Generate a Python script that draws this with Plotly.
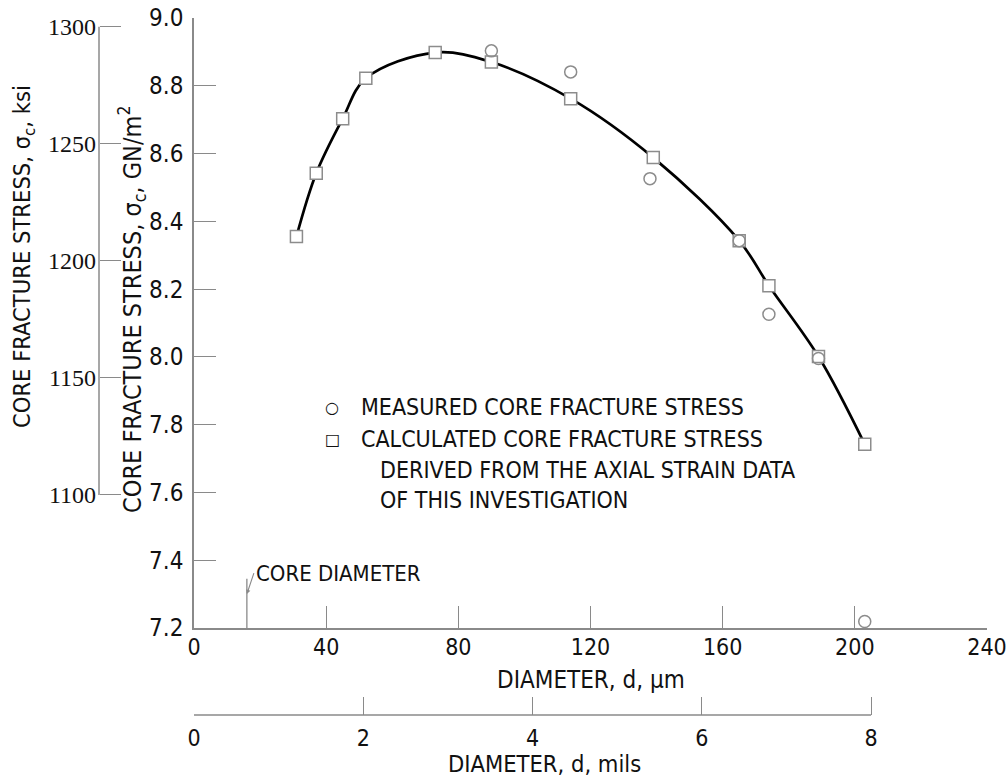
import plotly.graph_objects as go

# ---------------- data ----------------
calc_diameter_um = [31, 37, 45, 52, 73, 90, 114, 139, 165, 174, 189, 203]
calc_stress_gpa = [8.355, 8.542, 8.703, 8.822, 8.898, 8.870, 8.762, 8.588,
                   8.343, 8.210, 8.001, 7.742]
meas_diameter_um = [90, 114, 138, 165, 174, 189, 203]
meas_stress_gpa = [8.903, 8.841, 8.526, 8.343, 8.126, 7.995, 7.219]
core_diameter_um = [16]

x_ticks_um = [0, 40, 80, 120, 160, 200, 240]
y_ticks_gpa = [7.2, 7.4, 7.6, 7.8, 8.0, 8.2, 8.4, 8.6, 8.8, 9.0]
y_tick_text = ["7.2", "7.4", "7.6", "7.8", "8.0", "8.2", "8.4", "8.6", "8.8", "9.0"]
ksi_ticks = [1100, 1150, 1200, 1250, 1300]
mils_ticks = [0, 2, 4, 6, 8]

legend_labels = ["MEASURED CORE FRACTURE STRESS",
                 "CALCULATED CORE FRACTURE STRESS",
                 "DERIVED FROM THE AXIAL STRAIN DATA",
                 "OF THIS INVESTIGATION"]

# ---------------- geometry helpers ----------------
W, H = 1008, 782
ML, MR, MT, MB = 10, 21, 18, 20
PW, PH = W - ML - MR, H - MT - MB


def px(xpix):
    """page x pixel -> paper fraction"""
    return (xpix - ML) / PW


def py(ypix):
    """page y pixel -> paper fraction"""
    return (H - MB - ypix) / PH


FONT = "DejaVu Sans Condensed, Liberation Sans Narrow, sans-serif"
SERIF = "Liberation Serif, DejaVu Serif, serif"
AX = "#8a8a8a"
TXT = "#111111"

fig = go.Figure()

# fitted curve through calculated values
fig.add_trace(go.Scatter(
    x=calc_diameter_um, y=calc_stress_gpa, mode="lines",
    line=dict(color="#000000", width=2.7, shape="spline", smoothing=1.0),
    showlegend=False, hoverinfo="skip"))

# calculated (squares)
fig.add_trace(go.Scatter(
    x=calc_diameter_um, y=calc_stress_gpa, mode="markers",
    marker=dict(symbol="square", size=12, color="white",
                line=dict(color="#8c8c8c", width=1.5)),
    name=legend_labels[1], showlegend=False, cliponaxis=False))

# measured (circles)
fig.add_trace(go.Scatter(
    x=meas_diameter_um, y=meas_stress_gpa, mode="markers",
    marker=dict(symbol="circle-open", size=12, color="#8c8c8c",
                line=dict(color="#8c8c8c", width=1.5)),
    name=legend_labels[0], showlegend=False, cliponaxis=False))

shapes = []
# ksi axis line (1100 .. 1300)
shapes.append(dict(type="line", xref="paper", yref="y2",
                   x0=px(99), x1=px(99), y0=ksi_ticks[0], y1=ksi_ticks[-1],
                   line=dict(color=AX, width=1.5)))
# mils axis line (0 .. 8)
shapes.append(dict(type="line", xref="x2", yref="paper",
                   x0=mils_ticks[0], x1=mils_ticks[-1], y0=py(715), y1=py(715),
                   line=dict(color=AX, width=1.5)))
# core diameter marker line
shapes.append(dict(type="line", xref="x", yref="y",
                   x0=core_diameter_um[0], x1=core_diameter_um[0],
                   y0=7.2, y1=7.345, line=dict(color=AX, width=1.3)))

annotations = []


def note(text, xp, yp, size=24, anchor="center", angle=0, family=FONT):
    annotations.append(dict(text=text, x=px(xp), y=py(yp), xref="paper", yref="paper",
                            xanchor=anchor, yanchor="middle", showarrow=False,
                            textangle=angle, font=dict(family=family, size=size, color=TXT)))


note("CORE FRACTURE STRESS, σ<sub>c</sub>, ksi", 23, 257, size=23.5, angle=-90)
note("CORE FRACTURE STRESS, σ<sub>c</sub>, GN/m<sup>2</sup>", 132, 310, size=25, angle=-90)
note("DIAMETER, d, μm", 591, 680, size=24)
note("DIAMETER, d, mils", 544, 764, size=23.5)

# legend (text)
note("○", 332, 407, size=16, family="DejaVu Sans")
note("□", 332, 439, size=16, family="DejaVu Sans")
note(legend_labels[0], 359, 407, size=23, anchor="left")
note(legend_labels[1], 359, 439, size=23, anchor="left")
note(legend_labels[2], 378, 470, size=23, anchor="left")
note(legend_labels[3], 378, 500, size=23, anchor="left")

# core diameter label with small arrow
annotations.append(dict(text="CORE DIAMETER", x=core_diameter_um[0], y=7.30,
                        xref="x", yref="y", showarrow=True, ax=7, ay=-21,
                        axref="pixel", ayref="pixel", xanchor="left", yanchor="middle",
                        arrowhead=2, arrowsize=0.8, arrowwidth=1.1, arrowcolor=AX,
                        font=dict(family=FONT, size=22, color=TXT)))

common = dict(showgrid=False, zeroline=False, automargin=False,
              ticks="inside", tickcolor=AX, tickwidth=1.3, ticklabeloverflow="allow")

fig.update_layout(
    width=W, height=H, autosize=False,
    margin=dict(l=ML, r=MR, t=MT, b=MB, pad=0, autoexpand=False),
    paper_bgcolor="white", plot_bgcolor="white",
    showlegend=False,
    xaxis=dict(domain=[px(194), 1], range=[0, 240], tickvals=x_ticks_um,
               showline=True, linecolor=AX, linewidth=1.5, ticklen=22,
               tickfont=dict(family=FONT, size=23, color=TXT), ticklabelstandoff=-2,
               **common),
    yaxis=dict(domain=[py(628), 1], range=[7.2, 9.0], tickvals=y_ticks_gpa,
               ticktext=y_tick_text,
               showline=True, linecolor=AX, linewidth=1.5, ticklen=22,
               tickfont=dict(family=FONT, size=24, color=TXT), ticklabelstandoff=4,
               **common),
    yaxis2=dict(overlaying="y", anchor="free", position=px(99), side="left",
                range=[1043.2, 1303.7], tickvals=ksi_ticks, showline=False, ticklen=21,
                tickfont=dict(family=SERIF, size=24, color=TXT), ticklabelstandoff=3,
                **common),
    xaxis2=dict(overlaying="x", anchor="free", position=py(715), side="bottom",
                range=[0, 9.37], tickvals=mils_ticks, showline=False, ticklen=18,
                tickfont=dict(family=FONT, size=23, color=TXT), ticklabelstandoff=7,
                **common),
    shapes=shapes,
    annotations=annotations,
)

# remove the browser's default 8px body margin so the figure fills the window
fig.write_html("out.html", config={"displayModeBar": False},
               post_script="document.body.style.margin='0';")
